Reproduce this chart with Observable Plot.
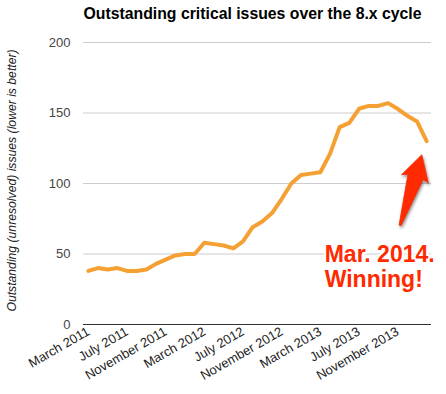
<!DOCTYPE html>
<html>
<head>
<meta charset="utf-8">
<script src="https://cdn.jsdelivr.net/npm/d3@7"></script>
<script src="https://cdn.jsdelivr.net/npm/@observablehq/plot@0.6"></script>
<style>
  html, body { margin: 0; padding: 0; background: #fff; }
  #chart svg { display: block; }
</style>
</head>
<body>
<div id="chart"></div>
<script>
// ---- data ----
const months = [
  "March 2011","April 2011","May 2011","June 2011","July 2011","August 2011",
  "September 2011","October 2011","November 2011","December 2011","January 2012","February 2012",
  "March 2012","April 2012","May 2012","June 2012","July 2012","August 2012",
  "September 2012","October 2012","November 2012","December 2012","January 2013","February 2013",
  "March 2013","April 2013","May 2013","June 2013","July 2013","August 2013",
  "September 2013","October 2013","November 2013","December 2013","January 2014","February 2014"
];
const issues = [
  38, 40, 39, 40, 38, 38,
  39, 43, 46, 49, 50, 50,
  58, 57, 56, 54, 59, 69,
  73, 79, 89, 100, 106, 107,
  108, 121, 140, 143, 153, 155,
  155, 157, 153, 148, 144, 130
];
const xTickIndex = [0, 4, 8, 12, 16, 20, 24, 28, 32];
const yTicks = [0, 50, 100, 150, 200];
const gridTicks = [50, 100, 150, 200];
const titleText = "Outstanding critical issues over the 8.x cycle";
const yLabelText = "Outstanding (unresolved) issues (lower is better)";
const noteText = "Mar. 2014.\nWinning!";
// annotation anchors in data units (x = month index, y = issues)
const arrowTip = {x: 34.55, y: 120};
const arrowTail = {x: 32.3, y: 70};
const noteAnchor = {x: 24.45, y: 57};

const data = issues.map((v, i) => ({i, month: months[i], issues: v}));

const FONT = "'Liberation Sans', Arial, Helvetica, sans-serif";
const RED = "#ff2a00";

function arrowMark(index, scales) {
  const x = scales.x, y = scales.y;
  const tx = x(arrowTip.x), ty = y(arrowTip.y);
  const bx = x(arrowTail.x), by = y(arrowTail.y);
  const vx = tx - bx, vy = ty - by, L = Math.hypot(vx, vy);
  const ux = vx / L, uy = vy / L, nx = -uy, ny = ux;
  const P = (a, b) => [tx + a * ux + b * nx, ty + a * uy + b * ny];
  const pts = [P(0, 0), P(-25, 14.5), P(-23, 8.5), P(-L, 1), P(-L, -1), P(-22.5, -7.5), P(-25, -13.5)];
  const g = d3.create("svg:g");
  g.append("path")
    .attr("d", "M" + pts.map(p => p[0].toFixed(1) + "," + p[1].toFixed(1)).join("L") + "Z")
    .attr("fill", RED)
    .attr("stroke", RED)
    .attr("stroke-width", 0.8)
    .attr("stroke-linejoin", "round")
    .style("filter", "drop-shadow(1px 2px 1.5px rgba(0,0,0,0.45))");
  return g.node();
}

const chart = Plot.plot({
  width: 446,
  height: 394,
  marginLeft: 83,
  marginRight: 15,
  marginTop: 42,
  marginBottom: 70,
  style: {fontFamily: FONT, fontSize: "13px", background: "#fff", overflow: "visible"},
  x: {type: "linear", domain: [-0.5, 35.5], axis: null},
  y: {domain: [0, 200], axis: null},
  marks: [
    Plot.gridY(gridTicks, {stroke: "#cccccc", strokeOpacity: 1}),
    Plot.ruleY([0], {stroke: "#333333", strokeWidth: 1}),
    Plot.axisY(yTicks, {tickSize: 0, tickPadding: 13, label: null, fill: "#444", fontSize: 13, tickFormat: d => d}),
    Plot.axisX(xTickIndex, {
      tickSize: 0, tickPadding: 6, tickRotate: -30, label: null, fill: "#222", fontSize: 13,
      tickFormat: i => months[i]
    }),
    Plot.lineY(data, {x: "i", y: "issues", stroke: "#f5a033", strokeWidth: 4, strokeLinejoin: "round", strokeLinecap: "round"}),
    Plot.text([titleText], {frameAnchor: "top-left", lineAnchor: "bottom", textAnchor: "start", dy: -24, fontWeight: "bold", fontSize: 15.8, fill: "#000"}),
    Plot.text([yLabelText], {frameAnchor: "left", rotate: -90, dx: -71, dy: -3, textAnchor: "middle", fontStyle: "italic", fontSize: 12.2, fill: "#222"}),
    arrowMark,
    Plot.text([noteAnchor], {
      x: "x", y: "y", text: () => noteText, textAnchor: "start", lineAnchor: "top", lineHeight: 1.1,
      fontSize: 23, fontWeight: "bold", fill: RED, stroke: "#fff", strokeWidth: 4, ariaLabel: "note"
    })
  ]
});
document.getElementById("chart").appendChild(chart);
d3.select(chart).selectAll("g[aria-label=note]").style("filter", "drop-shadow(1px 1.5px 1.5px rgba(0,0,0,0.45))");
</script>
</body>
</html>
